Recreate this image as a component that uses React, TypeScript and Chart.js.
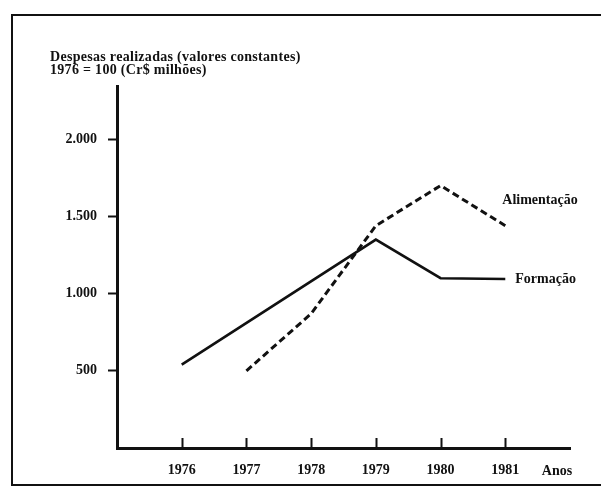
import React, { useEffect, useRef } from "react";
import { Chart, registerables } from "chart.js";

Chart.register(...registerables);

const years = [1976, 1977, 1978, 1979, 1980, 1981];
const formacao: (number | null)[] = [540, null, null, 1350, 1100, 1095];
const alimentacao: (number | null)[] = [null, 500, 870, 1440, 1700, 1440];
const yTicks = [500, 1000, 1500, 2000];
const titleLines = ["Despesas realizadas (valores constantes)", "1976 = 100 (Cr$ milhões)"];
const seriesNames = ["Formação", "Alimentação"];
const xAxisName = "Anos";

const FONT = '"Liberation Serif", "Times New Roman", serif';
const W = 601;
const H = 487;

const fmt = (v: number) => v.toLocaleString("pt-BR");

const decorPlugin = {
  id: "decor",
  afterDraw(chart: any) {
    const ctx = chart.ctx as CanvasRenderingContext2D;
    const xs = chart.scales.x;
    const ys = chart.scales.y;
    const area = chart.chartArea;
    ctx.save();
    // page border (scan frame)
    ctx.strokeStyle = "#111";
    ctx.lineWidth = 2;
    ctx.beginPath();
    ctx.moveTo(W, 15);
    ctx.lineTo(12, 15);
    ctx.lineTo(12, 485);
    ctx.lineTo(W, 485);
    ctx.stroke();

    // title
    ctx.fillStyle = "#111";
    ctx.font = `bold 14px ${FONT}`;
    (ctx as any).letterSpacing = "0.3px";
    ctx.textAlign = "left";
    ctx.textBaseline = "alphabetic";
    ctx.fillText(titleLines[0], 50, 61);
    ctx.fillText(titleLines[1], 50, 74);
    (ctx as any).letterSpacing = "0px";

    // x tick marks (pointing inward)
    ctx.lineWidth = 2;
    ctx.beginPath();
    years.forEach((yr) => {
      const px = Math.round(xs.getPixelForValue(yr)) + 0.5;
      ctx.moveTo(px, area.bottom);
      ctx.lineTo(px, area.bottom - 10);
    });
    ctx.stroke();

    // series labels
    const last = years.length - 1;
    const xLast = xs.getPixelForValue(years[last]);
    ctx.font = `bold 14px ${FONT}`;
    ctx.textAlign = "left";
    ctx.textBaseline = "middle";
    ctx.fillText(seriesNames[1], xLast - 3, ys.getPixelForValue(alimentacao[last] as number) - 25);
    ctx.fillText(seriesNames[0], xLast + 10, ys.getPixelForValue(formacao[last] as number));

    // axis name
    ctx.textAlign = "center";
    ctx.fillText(xAxisName, 557, 471);
    ctx.restore();
  },
};

export default function App() {
  const ref = useRef<HTMLCanvasElement | null>(null);
  useEffect(() => {
    if (!ref.current) return;
    const chart = new Chart(ref.current, {
      type: "line",
      data: {
        datasets: [
          {
            label: seriesNames[0],
            data: years.map((x, i) => ({ x, y: formacao[i] })) as any,
            borderColor: "#111",
            borderWidth: 2.6,
            pointRadius: 0,
            spanGaps: true,
            tension: 0,
          },
          {
            label: seriesNames[1],
            data: years.map((x, i) => ({ x, y: alimentacao[i] })) as any,
            borderColor: "#111",
            borderWidth: 3,
            borderDash: [7, 4],
            pointRadius: 0,
            spanGaps: true,
            tension: 0,
          },
        ],
      },
      options: {
        responsive: false,
        animation: false,
        devicePixelRatio: 1,
        layout: { padding: { left: 0, top: 86, right: 31, bottom: 0 } },
        plugins: { legend: { display: false }, tooltip: { enabled: false } },
        scales: {
          x: {
            type: "linear",
            min: 1975,
            max: 1982,
            afterBuildTicks: (s: any) => {
              s.ticks = years.map((v) => ({ value: v }));
            },
            afterFit: (s: any) => {
              s.height = H - 448;
            },
            grid: { display: true, drawOnChartArea: false, drawTicks: false },
            border: { display: true, color: "#111", width: 3 },
            ticks: {
              color: "#111",
              font: { family: FONT, size: 14, weight: "bold" },
              padding: 14,
              maxRotation: 0,
              callback: (v: any) => String(v),
            },
          },
          y: {
            type: "linear",
            min: 0,
            max: 2345,
            afterBuildTicks: (s: any) => {
              s.ticks = yTicks.map((v) => ({ value: v }));
            },
            afterFit: (s: any) => {
              s.width = 117;
            },
            grid: { display: true, drawOnChartArea: false, drawTicks: true, tickLength: 9, tickWidth: 2, tickColor: "#111" },
            border: { display: true, color: "#111", width: 3 },
            ticks: {
              color: "#111",
              font: { family: FONT, size: 14, weight: "bold" },
              padding: 11,
              callback: (v: any) => fmt(Number(v)),
            },
          },
        },
      },
      plugins: [decorPlugin],
    });
    return () => chart.destroy();
  }, []);
  return (
    <div style={{ position: "absolute", left: 0, top: 0, width: W, height: H, background: "#fff" }}>
      <canvas ref={ref} width={W} height={H} style={{ display: "block" }} />
    </div>
  );
}
